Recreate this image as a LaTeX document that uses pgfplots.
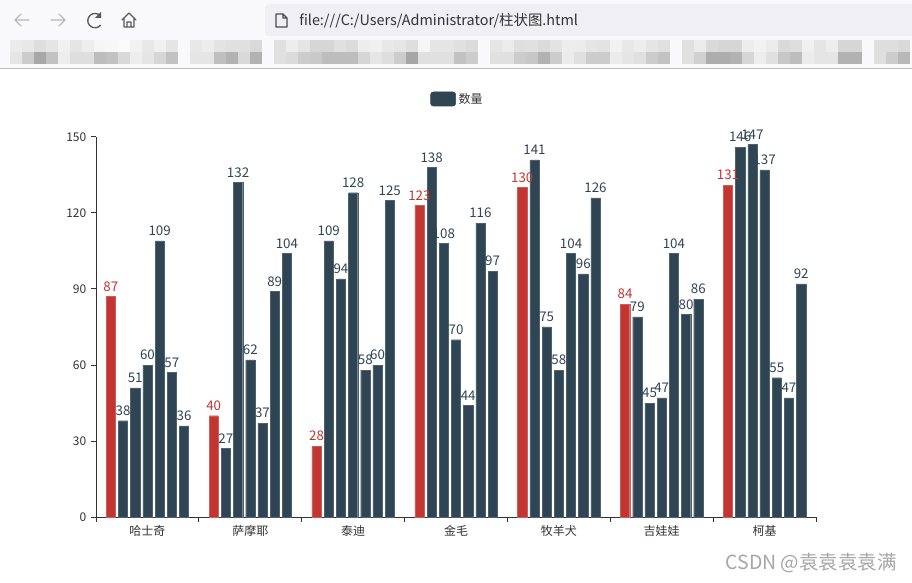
\documentclass[border=0pt]{standalone}
\usepackage{fontspec}
\setmainfont{Noto Sans CJK SC}
\usepackage{pgfplots}
\usepackage{pgfplotstable}
\pgfplotsset{compat=1.18}
\definecolor{ecred}{HTML}{C23531}
\definecolor{ecdark}{HTML}{2F4554}
\definecolor{ectext}{HTML}{333333}
\definecolor{chromebg}{HTML}{F9F9FB}
\definecolor{urlbg}{HTML}{EFEFF4}
\pgfplotstableread{
x s1 s2 s3 s4 s5 s6 s7
0 87 38 51 60 109 57 36
1 40 27 132 62 37 89 104
2 28 109 94 128 58 60 125
3 123 138 108 70 44 116 97
4 130 141 75 58 104 96 126
5 84 79 45 47 104 80 86
6 131 146 147 137 55 47 92
}\dogs
\begin{document}
\begin{tikzpicture}
\path[use as bounding box] (0,0) rectangle (684pt,436.5pt);
\begin{scope}[x=0.75pt,y=-0.75pt,yshift=436.5pt]
\clip (0,0) rectangle (912,582);
\fill[white] (0,0) rectangle (912,582);
\fill[chromebg] (0,0) rectangle (912,68);
\fill[urlbg,rounded corners=3pt] (265,4) rectangle (930,36);
\draw[black!25,line width=0.9pt] (0,68.5) -- (912,68.5);
\foreach \i/\a/\b in {0/92/90,1/91/80,2/87/66,3/90/76,4/94/93,5/90/87,6/93/87,7/96/74,8/97/76,9/98/85,10/95/93,11/91/90,12/94/84,13/90/76,
15/91/90,16/93/90,17/89/75,18/88/70,19/88/85,20/85/70,
22/88/88,23/93/86,24/90/80,25/84/79,26/84/74,27/88/74,28/86/74,29/93/84,30/94/90,31/91/87,32/90/80,33/87/65,34/96/88,35/90/88,36/90/88,37/88/76,38/86/80,
40/90/88,41/92/88,42/87/80,43/88/78,44/86/70,45/89/80,46/93/92,47/92/88,48/90/80,49/89/80,50/95/92,51/91/90,52/93/88,53/90/80,54/88/76,
56/88/88,57/92/82,58/85/68,59/84/68,60/84/70,61/93/84,62/95/93,63/92/88,64/85/78,65/87/74,66/94/92,67/90/90,68/93/90,69/84/70,70/84/70,
72/87/87,73/87/80,74/85/72}{
 \pgfmathsetmacro{\xa}{10+12*\i}
 \pgfmathsetmacro{\xb}{22+12*\i}
 \fill[color=white!\a!black] (\xa,40) rectangle (\xb,52);
 \fill[color=white!\b!black] (\xa,52) rectangle (\xb,64);
}
\begin{scope}[line width=0.9pt,cap=round,join=round]
\draw[black!28] (15,20) -- (29,20) (21,14) -- (15,20) -- (21,26);
\draw[black!28] (51,20) -- (65,20) (59,14) -- (65,20) -- (59,26);
\draw[black!65,line width=1pt] (100.5,16) arc[start angle=-40,end angle=-320,radius=7.2] ;
\fill[black!65] (101,12) -- (101,18) -- (95,18) -- cycle;
\draw[black!65] (122,20) -- (129,13) -- (136,20) (124,19) -- (124,27) -- (134,27) -- (134,19) (127,27) -- (127,22) -- (131,22) -- (131,27);
\draw[black!70] (276,14) -- (283,14) -- (287,18) -- (287,27) -- (276,27) -- cycle (283,14) -- (283,18) -- (287,18);
\end{scope}
\node[anchor=base west,inner sep=0pt,text=black!80,font=\fontsize{10.8}{13}\selectfont] at (299,25.5) {file:///C:/Users/Administrator/柱状图.html};
\node[anchor=base east,inner sep=0pt,text=black!35,font=\fontsize{14.6}{17}\selectfont] at (897,569.5) {CSDN @袁袁袁袁满};
\end{scope}
\begin{axis}[
  at={(72pt,48.75pt)}, anchor=south west,
  scale only axis, width=540pt, height=285pt,
  ybar=2.25pt, bar width=6.9pt,
  xmin=-0.5, xmax=6.5, ymin=0, ymax=150,
  axis x line=bottom, axis y line=left,
  axis line style={-,color=ectext,line width=0.75pt},
  tick align=outside, major tick length=3.75pt,
  tick style={color=ectext,line width=0.75pt},
  xtick={-0.5,0.5,1.5,2.5,3.5,4.5,5.5,6.5},
  xticklabels={},
  extra x ticks={0,1,2,3,4,5,6},
  extra x tick labels={哈士奇,萨摩耶,泰迪,金毛,牧羊犬,吉娃娃,柯基},
  extra x tick style={major tick length=0pt,tick label style={yshift=-3pt}},
  ytick={0,30,60,90,120,150},
  tick label style={font=\fontsize{9}{11}\selectfont,text=ectext},
  /pgf/number format/assume math mode=true,
  nodes near coords,
  every node near coord/.append style={font=\fontsize{10}{12}\selectfont,inner sep=1.5pt,yshift=2.2pt,
     /pgf/number format/assume math mode=true},
  clip=false,
  legend style={at={(0.5025,1.1)},anchor=center,draw=none,fill=none,
     font=\fontsize{9}{11}\selectfont,text=ectext},
  legend image code/.code={\fill[ecdark,rounded corners=2pt] (-1.5pt,-5.25pt) rectangle (17.25pt,5.25pt);},
  legend entries={数量},
]
\addlegendimage{ecdark}
\addplot+[fill=ecred,draw=ecred!80!white,line width=0.25pt,mark=none,every node near coord/.append style={text=ecred}] table[x=x,y=s1] {\dogs};
\addplot+[fill=ecdark,draw=ecdark!85!white,line width=0.25pt,mark=none,every node near coord/.append style={text=ecdark}] table[x=x,y=s2] {\dogs};
\addplot+[fill=ecdark,draw=ecdark!85!white,line width=0.25pt,mark=none,every node near coord/.append style={text=ecdark}] table[x=x,y=s3] {\dogs};
\addplot+[fill=ecdark,draw=ecdark!85!white,line width=0.25pt,mark=none,every node near coord/.append style={text=ecdark}] table[x=x,y=s4] {\dogs};
\addplot+[fill=ecdark,draw=ecdark!85!white,line width=0.25pt,mark=none,every node near coord/.append style={text=ecdark}] table[x=x,y=s5] {\dogs};
\addplot+[fill=ecdark,draw=ecdark!85!white,line width=0.25pt,mark=none,every node near coord/.append style={text=ecdark}] table[x=x,y=s6] {\dogs};
\addplot+[fill=ecdark,draw=ecdark!85!white,line width=0.25pt,mark=none,every node near coord/.append style={text=ecdark}] table[x=x,y=s7] {\dogs};
\end{axis}
\end{tikzpicture}
\end{document}
